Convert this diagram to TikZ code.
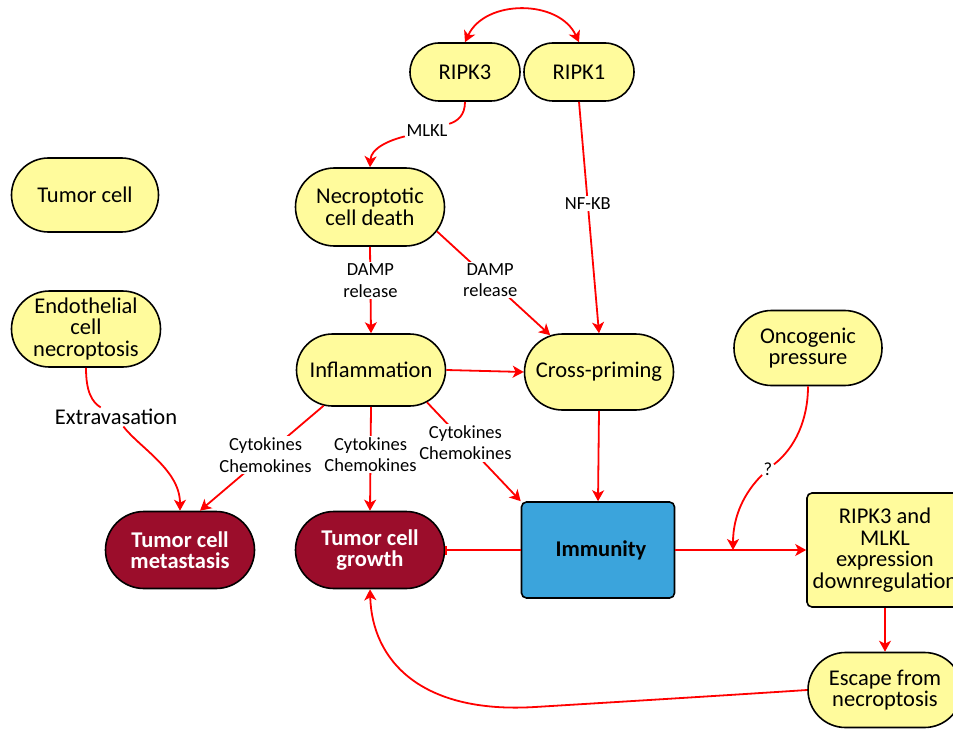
\documentclass[tikz,border=0pt]{standalone}
\usepackage{fontspec}
\setmainfont{Carlito}
\usetikzlibrary{arrows.meta,shapes.misc}
\definecolor{nodeyellow}{HTML}{FFFB9C}
\definecolor{darkred}{HTML}{9B0D2B}
\definecolor{immblue}{HTML}{3BA4DC}
\definecolor{linkred}{HTML}{FF0000}
\tikzset{
  stad/.style={rounded rectangle, draw=black, line width=1.6pt, fill=nodeyellow,
    minimum width=153pt, minimum height=76pt, align=center, inner sep=2pt,
    font=\fontsize{22.5}{21.5}\selectfont},
  ripk/.style={stad, minimum width=114pt, minimum height=58pt},
  bad/.style={stad, fill=darkred, text=white, font=\fontsize{22.5}{21.5}\selectfont\bfseries},
  sqbox/.style={rectangle, rounded corners=5pt, draw=black, line width=1.6pt,
    align=center, inner sep=2pt, font=\fontsize{22.5}{21.5}\selectfont},
  lbl/.style={fill=white, inner sep=1.5pt, align=center, font=\fontsize{18.5}{21.5}\selectfont},
  plain/.style={draw=linkred, line width=1.8pt},
  arr/.style={plain, -{Stealth[length=11pt,width=12pt,inset=3pt]}},
}
\begin{document}
\begin{tikzpicture}[x=1pt,y=-1pt]
\useasboundingbox (0,0) rectangle (953,730);
% nodes
\node[ripk] (ripk3) at (465,72) {RIPK3};
\node[ripk] (ripk1) at (579,72) {RIPK1};
\node[stad, minimum width=151pt, minimum height=74pt] (tumor) at (85,195) {Tumor cell};
\node[stad, minimum height=78pt] (necro) at (370,207) {Necroptotic\\cell death};
\node[stad] (endo) at (86,329) {Endothelial\\cell\\necroptosis};
\node[stad, minimum height=72pt] (infl) at (371,370) {Inflammation};
\node[stad] (cross) at (599,372) {Cross-priming};
\node[stad, minimum width=152pt, minimum height=75pt] (onco) at (808,348) {Oncogenic\\pressure};
\node[bad, minimum height=77pt] (meta) at (180,550) {Tumor cell\\metastasis};
\node[bad, minimum height=77pt] (growth) at (370,550) {Tumor cell\\growth};
\node[sqbox, fill=immblue, minimum width=153pt, minimum height=96pt,
  font=\fontsize{22.5}{21.5}\selectfont\bfseries] (imm) at (598,550) {\hspace*{6pt}Immunity};
\node[sqbox, fill=nodeyellow, minimum width=156pt, minimum height=114pt] (down) at (885,550)
  {RIPK3 and\\MLKL\\expression\\downregulation};
\node[stad, minimum width=158pt, minimum height=75pt] (escape) at (885,690) {Escape from\\necroptosis};
% labels
\node[lbl] (mlkl) at (427,131) {MLKL};
\node[lbl, font=\fontsize{22.5}{21.5}\selectfont] (extr) at (116,417) {Extravasation};
\node[lbl] (q) at (768,469) {?};
\coordinate (join) at (733,550);
% connectors
\draw[plain, {Stealth[length=11pt,width=12pt,inset=3pt]}-{Stealth[length=11pt,width=12pt,inset=3pt]}]
  (ripk3.north) .. controls (485,-1) and (559,-1) .. (ripk1.north);
\draw[plain] (ripk3.south) .. controls (465,115) and (458,121) .. (mlkl);
\draw[arr] (mlkl) .. controls (390,140) and (371,148) .. (necro.north);
\draw[arr] (ripk1.south) -- node[lbl, pos=0.44] (nfkb) {NF-KB} (cross.north);
\draw[arr] (necro.south) -- node[lbl, pos=0.39] (damp1) {DAMP\\release} (infl.north);
\draw[arr] (necro.-20) -- node[lbl, pos=0.47] (damp2) {DAMP\\release} (cross.143);
\draw[arr] (infl.east) -- (cross.west);
\draw[arr] (cross.south) -- (imm.north);
\draw[arr] (infl.-143) -- node[lbl, pos=0.47] (cyt1) {Cytokines\\Chemokines} (meta.63);
\draw[arr] (infl.south) -- node[lbl, pos=0.46] (cyt2) {Cytokines\\Chemokines} (growth.north);
\draw[arr] (infl.-30) -- node[lbl, pos=0.41] (cyt3) {Cytokines\\Chemokines} (imm.north west);
\draw[plain] (endo.south) .. controls (86,392) and (92,402) .. (extr);
\draw[arr] (extr) .. controls (140,448) and (180,470) .. (meta.north);
\draw[plain, -{Bar[width=9pt,line width=1.6pt]}] (imm.west) -- (growth.east);
\draw[arr] (imm.east) -- (down.west);
\draw[plain] (onco.south) .. controls (808,420) and (795,448) .. (q);
\draw[arr] (q) .. controls (745,492) and (733,515) .. (join);
\draw[arr] (down.south) -- (escape.north);
\draw[arr] (escape.west) .. controls (700,697) and (600,703) .. (535,707)
  .. controls (420,714) and (372,660) .. (growth.south);
\end{tikzpicture}
\end{document}
